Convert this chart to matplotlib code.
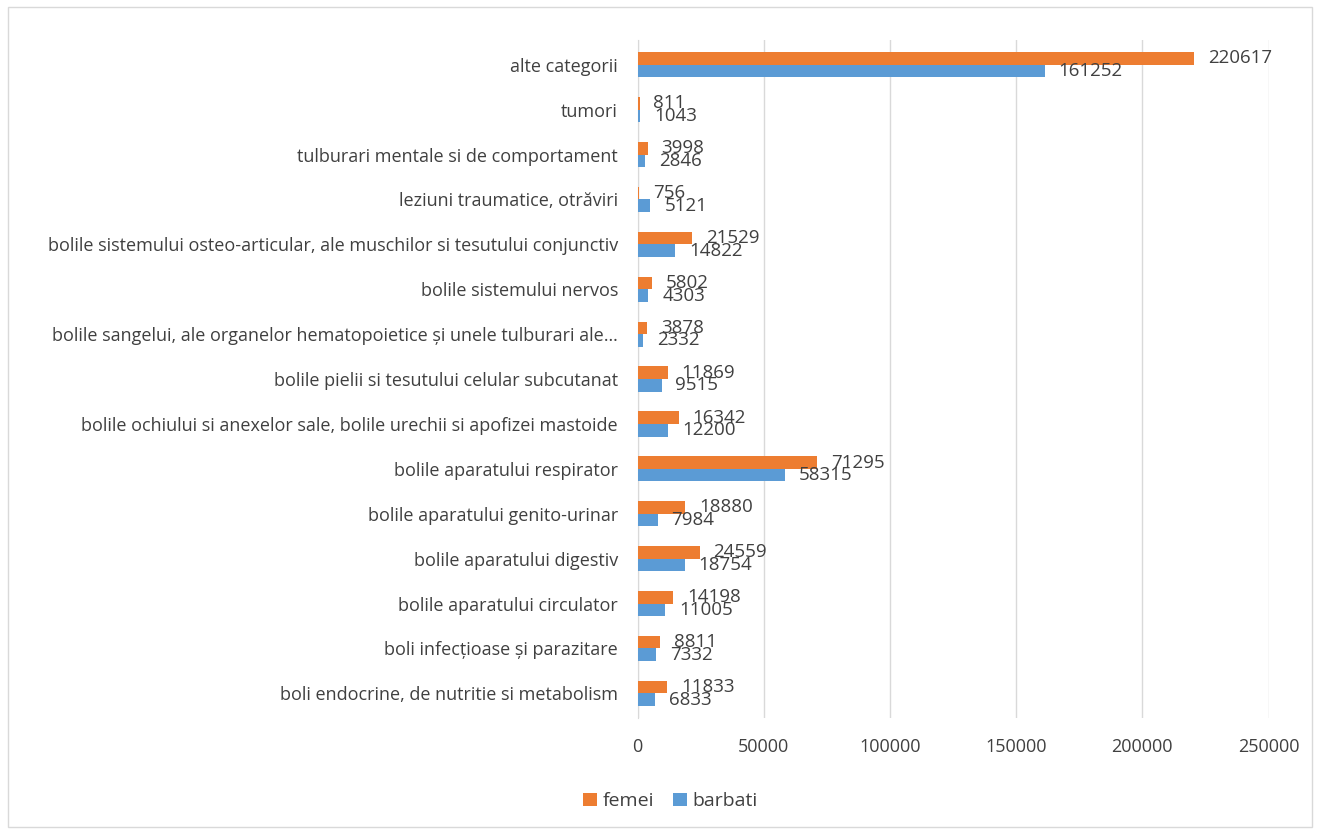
import numpy as np
import matplotlib.pyplot as plt
from matplotlib.patches import Rectangle

plt.rcParams['font.family'] = ['Open Sans', 'DejaVu Sans']

# categories from bottom to top
categories = [
    'boli endocrine, de nutritie si metabolism',
    'boli infecțioase și parazitare',
    'bolile aparatului circulator',
    'bolile aparatului digestiv',
    'bolile aparatului genito-urinar',
    'bolile aparatului respirator',
    'bolile ochiului si anexelor sale, bolile urechii si apofizei mastoide',
    'bolile pielii si tesutului celular subcutanat',
    'bolile sangelui, ale organelor hematopoietice și unele tulburari ale…',
    'bolile sistemului nervos',
    'bolile sistemului osteo-articular, ale muschilor si tesutului conjunctiv',
    'leziuni traumatice, otrăviri',
    'tulburari mentale si de comportament',
    'tumori',
    'alte categorii',
]
femei = [11833, 8811, 14198, 24559, 18880, 71295, 16342, 11869, 3878, 5802, 21529, 756, 3998, 811, 220617]
barbati = [6833, 7332, 11005, 18754, 7984, 58315, 12200, 9515, 2332, 4303, 14822, 5121, 2846, 1043, 161252]
xticks = [0, 50000, 100000, 150000, 200000, 250000]

orange = '#ED7D31'
blue = '#5B9BD5'
txt = '#404040'

fig = plt.figure(figsize=(13.2, 8.34), dpi=100)
ax = fig.add_axes([0.483, 0.139, 0.478, 0.813])

y = np.arange(len(categories))
h = 0.28
bf = ax.barh(y + h / 2, femei, height=h, color=orange, label='femei', zorder=3)
bb = ax.barh(y - h / 2, barbati, height=h, color=blue, label='barbati', zorder=3)

# value labels just right of each bar
for bars, vals in [(bf, femei), (bb, barbati)]:
    for bar, v in zip(bars, vals):
        ax.annotate(str(v), (bar.get_width(), bar.get_y() + bar.get_height() / 2),
                    xytext=(10, 0), textcoords='offset points', va='center', ha='left',
                    fontsize=13.5, color=txt, zorder=4)

ax.set_xlim(0, 250000)
ax.set_ylim(-0.55, len(categories) - 0.45)
ax.set_xticks(xticks)
ax.set_xticklabels([str(t) for t in xticks])
ax.set_yticks(y)
ax.set_yticklabels(categories)
ax.tick_params(axis='both', length=0, labelsize=13, labelcolor=txt)
ax.tick_params(axis='x', pad=14)
ax.tick_params(axis='y', pad=14)
ax.grid(axis='x', color='#D9D9D9', linewidth=1, zorder=0)
for s in ['top', 'right', 'bottom']:
    ax.spines[s].set_visible(False)
ax.spines['left'].set_color('#D9D9D9')

fig.legend(handles=[bf, bb], loc='center', bbox_to_anchor=(0.508, 0.039), ncol=2,
           frameon=False, fontsize=14, handlelength=0.7, handleheight=0.7,
           handletextpad=0.3, columnspacing=1.0, labelcolor=txt)

fig.patches.append(Rectangle((0.006, 0.008), 0.988, 0.984, transform=fig.transFigure,
                             fill=False, edgecolor='#D9D9D9', linewidth=1))

fig.savefig('out.png', dpi=100)
